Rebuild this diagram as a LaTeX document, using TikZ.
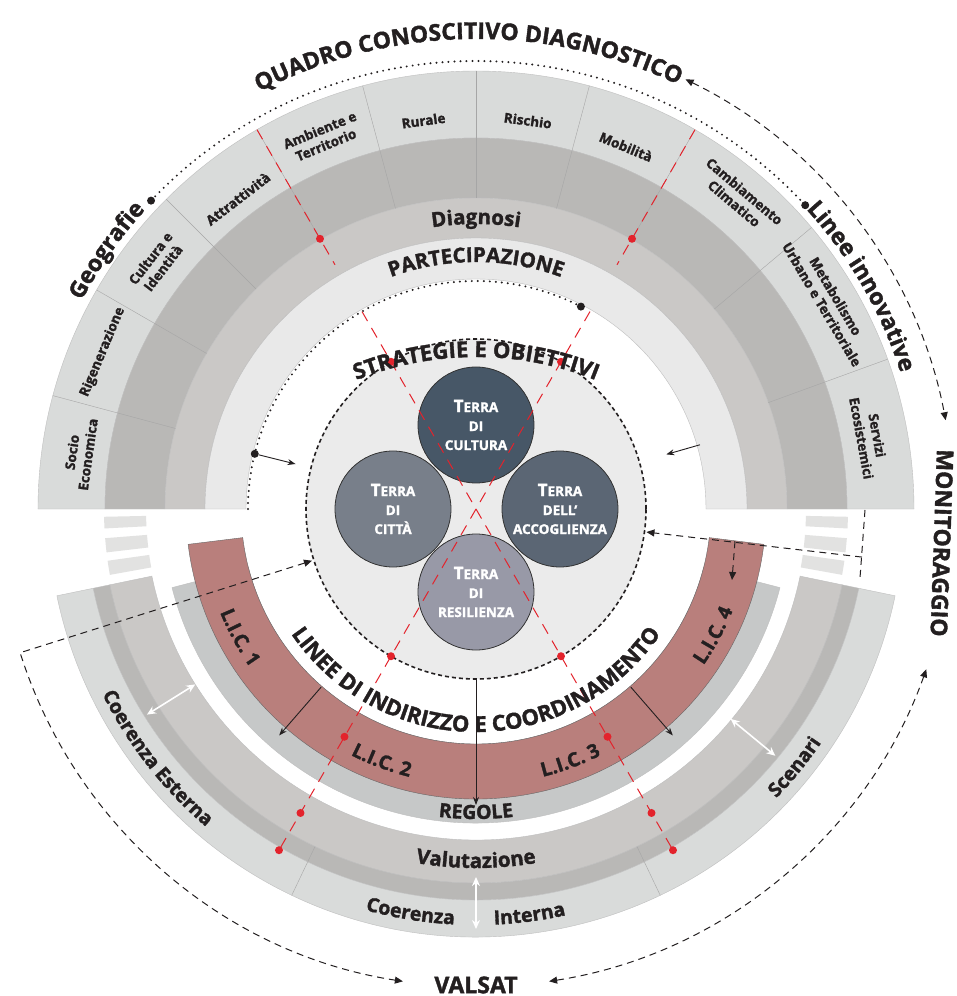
\documentclass[tikz,border=0pt]{standalone}
\usepackage{fontspec}
\setmainfont{Open Sans}[BoldFeatures={FakeBold=1.6}]
\usetikzlibrary{arrows.meta,decorations.text}
\definecolor{ink}{HTML}{231F20}
\definecolor{ringout}{HTML}{D9DBDA}
\definecolor{ringdark}{HTML}{B9B8B6}
\definecolor{ringmid}{HTML}{CAC8C6}
\definecolor{ringpale}{HTML}{E9E9E9}
\definecolor{core}{HTML}{EBEBEB}
\definecolor{rules}{HTML}{C6C8C8}
\definecolor{lic}{HTML}{B97F7C}
\definecolor{redline}{HTML}{E3232C}
\definecolor{bar}{HTML}{E2E2E1}
\definecolor{cultura}{HTML}{475767}
\definecolor{citta}{HTML}{787F8A}
\definecolor{accoglienza}{HTML}{5B6674}
\definecolor{resilienza}{HTML}{9899A7}
\tikzset{every picture/.style = {x=1pt, y=1pt}}
\tikzset{band/.style = {draw=black!25, line width=0.4pt}}
\tikzset{divide/.style = {draw=black!35, line width=0.4pt}}
\tikzset{seglab/.style = {text=ink, align=center, inner sep=0, font=\fontsize{13.5}{16}\selectfont\bfseries}}
\tikzset{terra/.style = {text=white, align=center, inner sep=0, font=\fontsize{13.5}{19}\selectfont\bfseries}}
\tikzset{disc/.style = {draw=black!80, line width=0.8pt}}
\tikzset{redcut/.style = {redline, line width=1pt, dash pattern=on 11pt off 8pt}}
\tikzset{blob/.style = {fill=ink, circle, inner sep=0, minimum size=8pt}}
\tikzset{dotline/.style = {ink, line width=2.2pt, line cap=round, dash pattern=on 0pt off 6pt}}
\tikzset{flow/.style = {ink, line width=1pt, dash pattern=on 7pt off 5pt}}
\tikzset{onehead/.style = {-{Triangle[length=8pt,width=7pt]}}}
\tikzset{twohead/.style = {{Triangle[length=8pt,width=7pt]}-{Triangle[length=8pt,width=7pt]}}}
\tikzset{push/.style = {ink, line width=0.9pt, -{Stealth[length=8pt,width=6pt]}}}
\tikzset{swap/.style = {white, line width=1.6pt, {Stealth[length=9pt,width=8pt]}-{Stealth[length=9pt,width=8pt]}}}
\newcommand{\sector}[5]{\path[band, #5] (#1:#4pt) arc[start angle=#1, end angle=#2, radius=#4pt] -- (#2:#3pt) arc[start angle=#2, end angle=#1, radius=#3pt] -- cycle;}
\newcommand{\arctext}[5]{\path[decorate, decoration={text along path, text align=center, text color=ink, text={|#4|#5}}] (#1:#3pt) arc[start angle=#1, end angle=#2, radius=#3pt];}
\newcommand{\bigfont}{\fontsize{23}{25}\selectfont\bfseries}
\newcommand{\midfont}{\fontsize{20.5}{22}\selectfont\bfseries}
\newcommand{\corefont}{\fontsize{22}{24}\selectfont\bfseries}
\newcommand{\licfont}{\fontsize{19.5}{21}\selectfont\bfseries}
\newcommand{\terra}{{\fontsize{17}{19}\selectfont T}ERRA}

\begin{document}
\begin{tikzpicture}
  \path[use as bounding box, fill=white] (-476,-487) rectangle (481,509);
  % upper rings
  \sector{0}{180}{371}{438}{fill=ringout}
  \sector{0}{180}{311}{371}{fill=ringdark}
  \sector{0}{180}{271}{311}{fill=ringmid}
  \sector{0}{180}{230}{271}{fill=ringpale}
  \foreach \a in {165,150,135,120,105,90,75,60,40,20}
    \draw[divide] (\a:311pt) -- (\a:438pt);
  % lower rings
  \sector{191.7}{348.3}{331}{374}{fill=ringmid}
  \sector{191.7}{348.3}{374}{391}{fill=ringdark}
  \sector{191.7}{348.3}{391}{428}{fill=ringout}
  \draw[divide] (244.5:374pt) -- (244.5:428pt);
  \draw[divide] (295.5:374pt) -- (295.5:428pt);
  \sector{194.5}{345.5}{235}{314}{fill=rules}
  \sector{187}{353}{235}{290}{fill=lic, draw=black!60}
  \sector{181.2}{183}{330}{372}{fill=bar, draw=none}
  \sector{184.5}{186.7}{330}{372}{fill=bar, draw=none}
  \sector{188}{190.2}{330}{372}{fill=bar, draw=none}
  \sector{-3}{-1.2}{330}{372}{fill=bar, draw=none}
  \sector{-6.7}{-4.5}{330}{372}{fill=bar, draw=none}
  \sector{-10.2}{-8}{330}{372}{fill=bar, draw=none}

  % core
  \draw[ink, line width=1.6pt, dash pattern=on 4pt off 3pt, fill=core] (0,0) circle[radius=170pt];
  \filldraw[disc, fill=citta] (-83,0) circle[radius=58pt];
  \filldraw[disc, fill=accoglienza] (84,0) circle[radius=58pt];
  \filldraw[disc, fill=cultura] (0,84) circle[radius=58pt];
  \filldraw[disc, fill=resilienza] (0,-83) circle[radius=58pt];
  \node[terra] (cultura) at (0,84) {\terra\\DI\\CULTURA};
  \node[terra] (citta) at (-83,0) {\terra\\DI\\CITTÀ};
  \node[terra] (accoglienza) at (84,0) {\terra\\DELL’\\ACCOGLIENZA};
  \node[terra] (resilienza) at (0,-83) {\terra\\DI\\RESILIENZA};

  % red cuts
  \draw[redcut] (120:438pt) -- (120:282pt);
  \draw[redcut] (60:438pt) -- (60:282pt);
  \draw[redcut] (120:228pt) -- (300:394pt);
  \draw[redcut] (60:228pt) -- (240:394pt);
  \foreach \p in {120:312, 60:312, 120:170, 60:170, 300:170, 240:170, 300:263, 240:263, 300:351, 240:351, 300:394, 240:394}
    \fill[redline] (\p pt) circle[radius=4pt];

  % segment labels
  \node[seglab, rotate=82] (socio) at (172:400pt) {Socio\\Economica};
  \node[seglab, rotate=67.2] (rigenerazione) at (157.2:405pt) {Rigenerazione};
  \node[seglab, rotate=52.4] (culturaid) at (142.4:403pt) {Cultura e\\Identità};
  \node[seglab, rotate=37.5] (attrattivita) at (127.5:391pt) {Attrattività};
  \node[seglab, rotate=22.4] (ambiente) at (112.4:402pt) {Ambiente e\\Territorio};
  \node[seglab, rotate=7.7] (rurale) at (97.7:392pt) {Rurale};
  \node[seglab, rotate=-7.6] (rischio) at (82.4:392pt) {Rischio};
  \node[seglab, rotate=-22.5] (mobilita) at (67.5:392pt) {Mobilità};
  \node[seglab, rotate=-40.2] (cambiamento) at (49.8:408pt) {Cambiamento\\Climatico};
  \node[seglab, rotate=-59.4] (metabolismo) at (30.6:410pt) {Metabolismo\\Urbano e Territoriale};
  \node[seglab, rotate=-79.6] (servizi) at (10.4:400pt) {Servizi\\Ecosistemici};

  % ring titles
  \arctext{150}{32}{470}{\bigfont}{QUADRO CONOSCITIVO DIAGNOSTICO}
  \arctext{165}{125}{446}{\bigfont}{Geografie}
  \arctext{55}{5}{446}{\bigfont}{Linee innovative}
  \arctext{120}{60}{285}{\midfont}{Diagnosi}
  \arctext{135}{45}{247}{\midfont}{PARTECIPAZIONE}
  \path[decorate, decoration={text along path, text align=center, text color=ink, text={|\corefont|STRATEGIE E OBIETTIVI}}] (0,-168) ++(130:320pt) arc[start angle=130, end angle=50, radius=320pt];
  \arctext{190}{350}{223}{\corefont}{LINEE DI INDIRIZZO E COORDINAMENTO}
  \arctext{188.5}{228.5}{276}{\licfont}{L.I.C. 1}
  \arctext{229.5}{269.5}{276}{\licfont}{L.I.C. 2}
  \arctext{270.5}{310.5}{276}{\licfont}{L.I.C. 3}
  \arctext{312}{352}{276}{\licfont}{L.I.C. 4}
  \arctext{250}{290}{310}{\licfont}{REGOLE}
  \arctext{240}{300}{359}{\midfont}{Valutazione}
  \arctext{245}{276.6}{416}{\licfont}{Coerenza}
  \arctext{262}{293}{416}{\licfont}{Interna}
  \arctext{190}{246}{417}{\licfont}{Coerenza Esterna}
  \arctext{300}{342}{417}{\licfont}{Scenari}
  \node[ink, rotate=-92, font=\bigfont] (monitoraggio) at (466,-34) {MONITORAGGIO};
  \node[ink, font=\bigfont] (valsat) at (0,-476) {VALSAT};

  % dotted arcs
  \draw[dotline] (136.5:448pt) arc[start angle=136.5, end angle=42.7, radius=448pt];
  \node[blob] (geodot) at (136.5:448pt) {};
  \node[blob] (lineedot) at (42.7:448pt) {};
  \draw[dotline] (180:228pt) arc[start angle=180, end angle=62.6, radius=228pt];
  \node[blob] (partdot) at (62.6:228pt) {};
  \node[blob] (leftdot) at (166:228pt) {};
  \coordinate (leftin) at (166:186pt);
  \coordinate (rightout) at (16:233pt);
  \coordinate (rightin) at (16:198pt);
  \draw[push] (leftdot) -- (leftin);
  \draw[push] (rightout) -- (rightin);

  % lic arrows
  \coordinate (lica) at (229:236pt);
  \coordinate (licb) at (229:300pt);
  \coordinate (licc) at (270:170pt);
  \coordinate (licd) at (270:296pt);
  \coordinate (lice) at (311:236pt);
  \coordinate (licf) at (311:300pt);
  \draw[push] (lica) -- (licb);
  \draw[push] (licc) -- (licd);
  \draw[push] (lice) -- (licf);

  % white arrows
  \coordinate (esta) at (212:331pt);
  \coordinate (estb) at (212:388pt);
  \coordinate (inta) at (270:368pt);
  \coordinate (intb) at (270:420pt);
  \coordinate (scea) at (320.5:330pt);
  \coordinate (sceb) at (320.5:388pt);
  \draw[swap] (esta) -- (estb);
  \draw[swap] (inta) -- (intb);
  \draw[swap] (scea) -- (sceb);

  % monitoring loop
  \coordinate (corel) at (197.5:172pt);
  \coordinate (cornerl) at (197.5:478pt);
  \coordinate (corer) at (-7.7:172pt);
  \coordinate (cornerr) at (-7.1:389pt);
  \coordinate (stubtop) at (389,-1);
  \coordinate (stubbot) at (384,-69);
  \coordinate (licin) at (-7.1:261pt);
  \coordinate (licout) at (256,-71);
  \draw[flow, twohead] (64:478pt) arc[start angle=64, end angle=10.7, radius=478pt];
  \draw[flow, twohead] (-19.6:478pt) arc[start angle=-19.6, end angle=-81.2, radius=478pt];
  \draw[flow, twohead] (corel) -- (cornerl) arc[start angle=197.5, end angle=261.2, radius=478pt];
  \draw[flow] (stubtop) -- (stubbot);
  \draw[flow, onehead] (cornerr) -- (corer);
  \draw[flow, onehead] (licin) -- (licout);
\end{tikzpicture}
\end{document}
